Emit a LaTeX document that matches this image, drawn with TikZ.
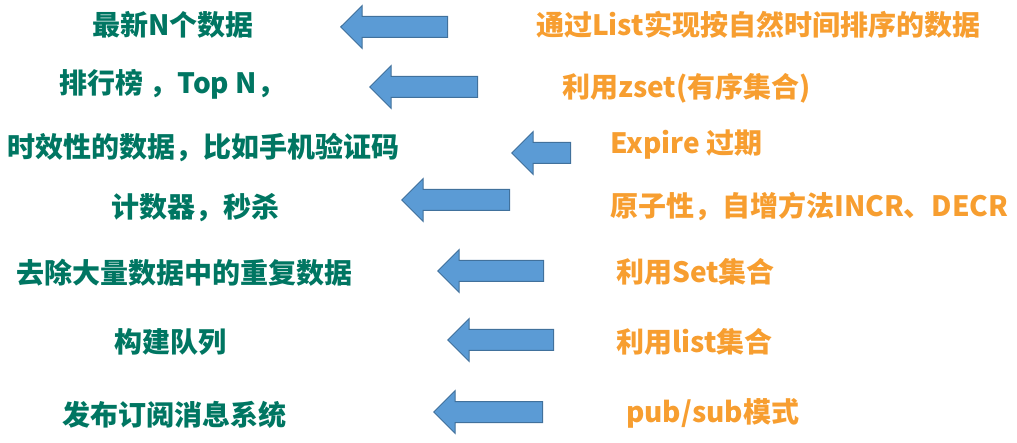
\documentclass[tikz,border=0pt]{standalone}
\usepackage{fontspec}
\usepackage{tikz}
\usetikzlibrary{shapes.arrows, positioning}
\newfontfamily\cjk{Noto Sans CJK SC}
\definecolor{usegreen}{RGB}{0,118,98}
\definecolor{useorange}{RGB}{247,158,48}
\definecolor{arrowfill}{RGB}{91,155,213}
\definecolor{arrowline}{RGB}{65,113,156}

\begin{document}
\begin{tikzpicture}[x=1pt, y=-1pt,
    usecase/.style={anchor=west, inner sep=0pt, text=usegreen,
        font=\cjk\bfseries\fontsize{28}{28}\selectfont},
    howto/.style={usecase, text=useorange},
    leftarrow/.style={single arrow, shape border rotate=180,
        draw=arrowline, fill=arrowfill, line width=1pt,
        inner xsep=0pt, inner ysep=10pt, anchor=tip,
        single arrow head extend=11pt, minimum height=#1},
]
    \useasboundingbox (0,0) rectangle (1017,443);

    \node[usecase] (newest)  at (92,25)  {最新N个数据};
    \node[usecase] (ranking) at (59,84)  {排行榜 ，Top N，};
    \node[usecase] (expiry)  at (7,148)  {时效性的数据，比如手机验证码};
    \node[usecase] (counter) at (111,208) {计数器，秒杀};
    \node[usecase] (dedup)   at (16,273) {去除大量数据中的重复数据};
    \node[usecase] (queue)   at (114,342) {构建队列};
    \node[usecase] (pubsub)  at (62,415) {发布订阅消息系统};

    \node[howto] (listsort) at (536,25)  {通过List实现按自然时间排序的数据};
    \node[howto] (zset)     at (562,88)  {利用zset(有序集合)};
    \node[howto] (expire)   at (610,145) {Expire 过期};
    \node[howto] (incr)     at (610,206) {原子性，自增方法INCR、DECR};
    \node[howto] (setcoll)  at (616,272) {利用Set集合};
    \node[howto] (listcoll) at (616,342) {利用list集合};
    \node[howto] (pubmode)  at (626,413) {pub/sub模式};

    \node[leftarrow=107pt] (arrNewest)  at (340,27)  {};
    \node[leftarrow=108pt] (arrRanking) at (369,87)  {};
    \node[leftarrow=59pt]  (arrExpiry)  at (511,153) {};
    \node[leftarrow=108pt] (arrCounter) at (401,200) {};
    \node[leftarrow=106pt] (arrDedup)   at (437,271) {};
    \node[leftarrow=106pt] (arrQueue)   at (447,340) {};
    \node[leftarrow=109pt] (arrPubsub)  at (433,412) {};
\end{tikzpicture}
\end{document}
